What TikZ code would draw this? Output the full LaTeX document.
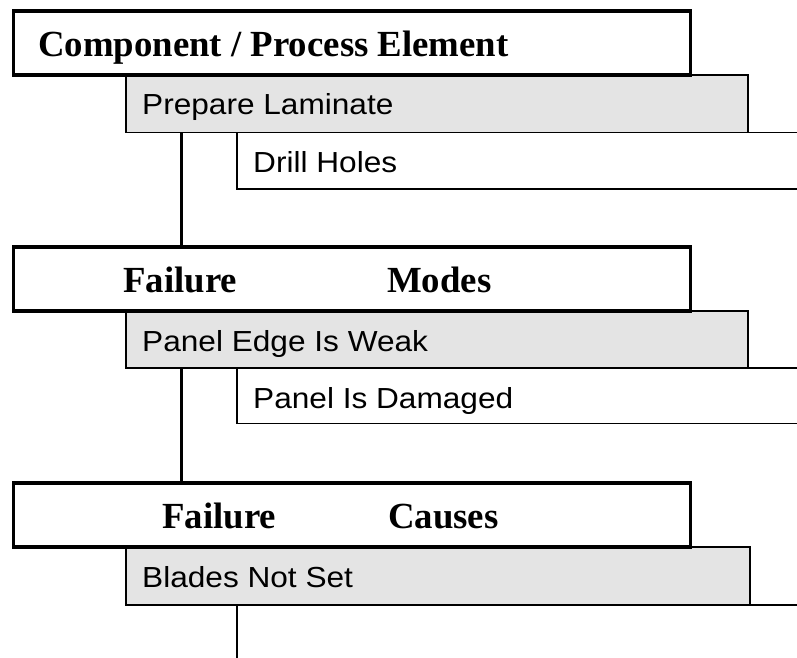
\documentclass[tikz,border=0pt]{standalone}
\usepackage{fontspec}
\setmainfont{Liberation Serif}
\newfontfamily\sansf[FakeStretch=1.09]{Liberation Sans}
\definecolor{boxgray}{RGB}{228,228,228}
\tikzset{
  hdrbox/.style={draw, line width=3.5pt, fill=white, rectangle, inner sep=0pt, outer sep=0pt, anchor=north west},
  graybox/.style={draw, line width=1.8pt, fill=boxgray, rectangle, inner sep=0pt, outer sep=0pt, anchor=north west},
  subbox/.style={draw, line width=1.8pt, fill=white, rectangle, inner sep=0pt, outer sep=0pt, anchor=north west},
  htext/.style={font=\bfseries\fontsize{36.8pt}{40pt}\selectfont, anchor=base west, inner sep=0pt},
  stext/.style={font=\sansf\fontsize{29pt}{32pt}\selectfont, anchor=base west, inner sep=0pt},
  link/.style={draw, line width=3.5pt},
}
\begin{document}
\begin{tikzpicture}[x=1pt, y=-1pt]
\useasboundingbox (0,0) rectangle (797,657);
\clip (0,0) rectangle (797,657);
\fill[white] (0,0) rectangle (797,657);

% section 1
\node[graybox, minimum width=622pt, minimum height=57.5pt] (g1) at (126,75) {};
\node[hdrbox, minimum width=677pt, minimum height=64pt] (h1) at (13.5,11) {};
\node[subbox, minimum width=600pt, minimum height=56.8pt] (s1) at (237,132.5) {};
\node[htext] (t1) at (38,56) {Component / Process Element};
\node[stext] (tg1) at (142,114.5) {Prepare Laminate};
\node[stext] (ts1) at (253,172.7) {Drill Holes};

% section 2
\node[graybox, minimum width=622pt, minimum height=57pt] (g2) at (126,311) {};
\node[hdrbox, minimum width=677pt, minimum height=64pt] (h2) at (13.5,247) {};
\node[subbox, minimum width=600pt, minimum height=55.5pt] (s2) at (237,368) {};
\node[htext] (t2) at (123,292) {\makebox[264pt][l]{Failure}Modes};
\node[stext] (tg2) at (142,351.7) {Panel Edge Is Weak};
\node[stext] (ts2) at (253,408.3) {Panel Is Damaged};

% section 3
\node[graybox, minimum width=624pt, minimum height=58pt] (g3) at (126,547) {};
\node[hdrbox, minimum width=677pt, minimum height=64pt] (h3) at (13.5,483) {};
\node[subbox, minimum width=600pt, minimum height=100pt] (s3) at (237,605) {};
\node[htext] (t3) at (162,528) {\makebox[226pt][l]{Failure}Causes};
\node[stext] (tg3) at (142,587) {Blades Not Set};

% connectors
\draw[link] ([xshift=55.5pt]g1.south west) -- ([xshift=168pt]h2.north west);
\draw[link] ([xshift=55.5pt]g2.south west) -- ([xshift=168pt]h3.north west);
\end{tikzpicture}
\end{document}
